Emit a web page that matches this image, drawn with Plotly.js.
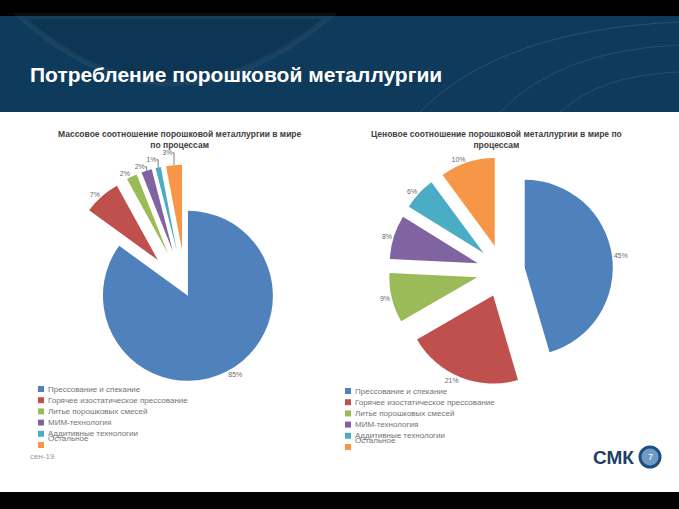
<!DOCTYPE html>
<html>
<head>
<meta charset="utf-8">
<script src="https://cdn.plot.ly/plotly-3.0.1.min.js"></script>
<style>html,body{margin:0;padding:0;background:#fff;}#chart{width:679px;height:509px;}</style>
</head>
<body>
<div id="chart"></div>
<script>
// ---- data ----
const categories = [
  "Прессование и спекание",
  "Горячее изостатическое прессование",
  "Литье порошковых смесей",
  "МИМ-технология",
  "Аддитивные технологии",
  "Остальное"
];
const massShare = [85, 7, 2, 2, 1, 3];
const priceShare = [45, 21, 9, 8, 6, 10];
const colors = ["#4f81bd", "#c0504d", "#9bbb59", "#8064a2", "#4bacc6", "#f79646"];
const pageTitle = "Потребление порошковой металлургии";
const leftTitle = "Массовое соотношение порошковой металлургии в мире<br>по процессам";
const rightTitle = "Ценовое соотношение порошковой металлургии в мире по<br>процессам";
const footerDate = "сен-19";

// ---- helpers (pixel -> paper) ----
const W = 679, H = 509;
const px = x => x / W;
const py = y => 1 - y / H;
const P = (x, y) => px(x).toFixed(5) + "," + py(y).toFixed(5);

const leftPull = [0.05, 0.5, 0.5, 0.5, 0.5, 0.5];
const rightPull = [0.25, 0.3, 0.3, 0.3, 0.3, 0.3];

function pie(values, pull, cx, cy, R) {
  const maxPull = Math.max(...pull);
  const half = R * (1 + maxPull);
  return {
    type: "pie",
    labels: categories,
    values: values,
    sort: false,
    direction: "clockwise",
    rotation: 0,
    pull: pull,
    marker: {colors: colors, line: {width: 0}},
    texttemplate: "%{value}%",
    textposition: "outside",
    outsidetextfont: {family: "Liberation Sans, Arial, sans-serif", size: 7, color: "#6b6b6b"},
    hoverinfo: "label+value",
    showlegend: false,
    domain: {x: [px(cx - half), px(cx + half)], y: [py(cy + half), py(cy - half)]}
  };
}

const data = [
  pie(massShare, leftPull, 186, 292, 85),
  pie(priceShare, rightPull, 503, 271, 88)
];

const shapes = [];
const annotations = [];

// header & footer bars
shapes.push({type: "rect", xref: "paper", yref: "paper", x0: 0, x1: 1, y0: py(16), y1: 1, fillcolor: "#000", line: {width: 0}, layer: "below"});
shapes.push({type: "rect", xref: "paper", yref: "paper", x0: 0, x1: 1, y0: py(112), y1: py(16), fillcolor: "#0e3a5b", line: {width: 0}, layer: "below"});
// decorative swoosh / line-art inside banner
shapes.push({type: "path", xref: "paper", yref: "paper", path: "M " + P(20, 16) + " Q " + P(170, 150) + " " + P(330, 16) + " Z",
  fillcolor: "rgba(0,0,0,0.07)", line: {color: "rgba(255,255,255,0.05)", width: 6}, layer: "below"});
shapes.push({type: "path", xref: "paper", yref: "paper", path: "M " + P(420, 112) + " Q " + P(500, 30) + " " + P(679, 22),
  line: {color: "rgba(255,255,255,0.12)", width: 1}, layer: "below"});
shapes.push({type: "path", xref: "paper", yref: "paper", path: "M " + P(500, 112) + " Q " + P(560, 50) + " " + P(679, 45),
  line: {color: "rgba(255,255,255,0.11)", width: 1}, layer: "below"});
shapes.push({type: "path", xref: "paper", yref: "paper", path: "M " + P(560, 112) + " Q " + P(600, 75) + " " + P(679, 72),
  line: {color: "rgba(255,255,255,0.1)", width: 1}, layer: "below"});
shapes.push({type: "rect", xref: "paper", yref: "paper", x0: 0, x1: 1, y0: 0, y1: py(492), fillcolor: "#000", line: {width: 0}, layer: "below"});

annotations.push({xref: "paper", yref: "paper", x: px(28), y: py(75), xanchor: "left", yanchor: "middle", showarrow: false,
  text: "<b>" + pageTitle + "</b>", font: {family: "Liberation Sans, Arial, sans-serif", size: 21, color: "#ffffff"}});

// chart titles
annotations.push({xref: "paper", yref: "paper", x: px(180), y: py(139), xanchor: "center", yanchor: "middle", showarrow: false,
  text: "<b>" + leftTitle + "</b>", font: {family: "Liberation Sans, Arial, sans-serif", size: 8.5, color: "#404040"}});
annotations.push({xref: "paper", yref: "paper", x: px(497), y: py(140), xanchor: "center", yanchor: "middle", showarrow: false,
  text: "<b>" + rightTitle + "</b>", font: {family: "Liberation Sans, Arial, sans-serif", size: 8.5, color: "#404040"}});

// custom legends
function legend(x0, y0, dy) {
  categories.forEach((c, i) => {
    const yc = y0 + i * dy;
    shapes.push({type: "rect", xref: "paper", yref: "paper", x0: px(x0), x1: px(x0 + 6), y0: py(yc + 3), y1: py(yc - 3),
      fillcolor: colors[i], line: {width: 0}});
    const ty = (i === categories.length - 1) ? yc - 7 : yc;
    annotations.push({xref: "paper", yref: "paper", x: px(x0 + 8), y: py(ty), xanchor: "left", yanchor: "middle", showarrow: false,
      text: c, font: {family: "Liberation Sans, Arial, sans-serif", size: 8, color: "#737373"}});
  });
}
legend(38, 389, 11.2);
legend(345, 391, 11.2);

// footer
annotations.push({xref: "paper", yref: "paper", x: px(28), y: py(456), xanchor: "left", yanchor: "middle", showarrow: false,
  text: footerDate, font: {family: "Liberation Sans, Arial, sans-serif", size: 8, color: "#999999"}});
annotations.push({xref: "paper", yref: "paper", x: px(636), y: py(457), xanchor: "right", yanchor: "middle", showarrow: false,
  text: "<b>СМК</b>", font: {family: "Liberation Sans, Arial, sans-serif", size: 19, color: "#1c3f66"}});
shapes.push({type: "circle", xref: "paper", yref: "paper", x0: px(640), x1: px(660), y0: py(467), y1: py(447),
  fillcolor: "#6f9cc7", line: {color: "#1f4f7d", width: 3}});
annotations.push({xref: "paper", yref: "paper", x: px(650), y: py(457), xanchor: "center", yanchor: "middle", showarrow: false,
  text: "7", font: {family: "Liberation Sans, Arial, sans-serif", size: 9, color: "#ffffff"}});

const layout = {
  width: W, height: H,
  margin: {l: 0, r: 0, t: 0, b: 0},
  paper_bgcolor: "#ffffff",
  plot_bgcolor: "#ffffff",
  showlegend: false,
  shapes: shapes,
  annotations: annotations
};

Plotly.newPlot("chart", data, layout, {displayModeBar: false, staticPlot: true});
</script>
</body>
</html>
